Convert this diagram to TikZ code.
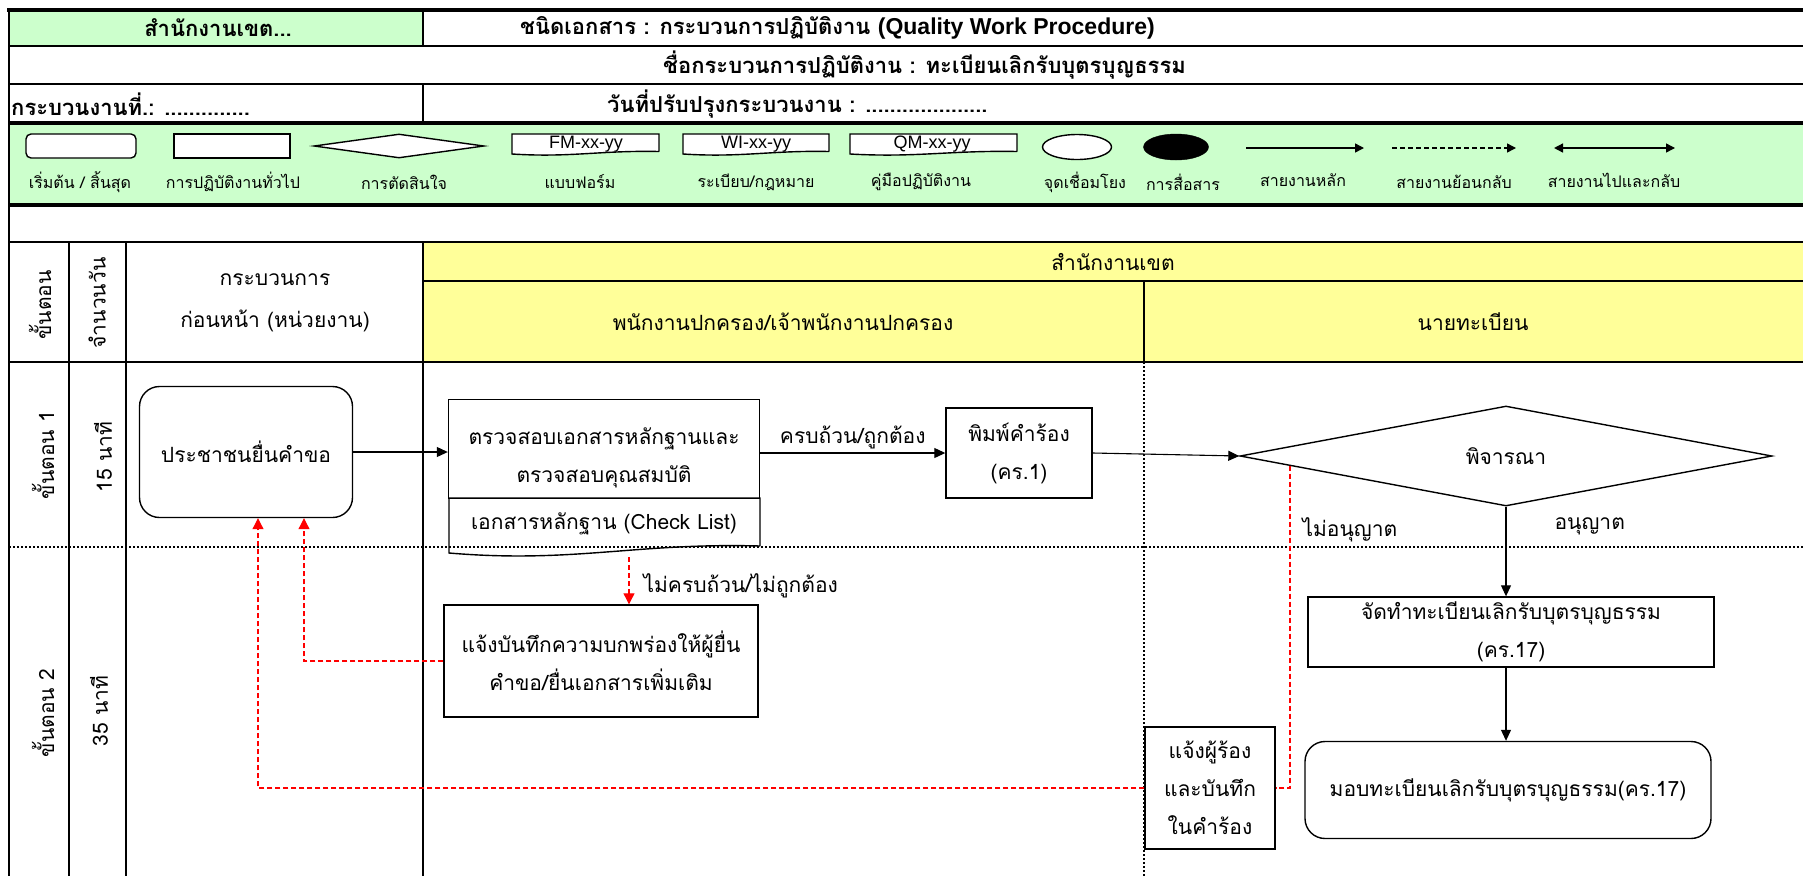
\documentclass[tikz,border=0pt]{standalone}
\usepackage{fontspec}
\setmainfont[Script=Thai]{Loma}
\newfontfamily\arialfont{Liberation Sans}
\usetikzlibrary{arrows.meta,calc,shapes.geometric}
\definecolor{legendgreen}{HTML}{CCFFCC}
\definecolor{laneyellow}{HTML}{FFFF99}
\newcommand\headfont{\fontsize{22}{26}\selectfont\bfseries}
\newcommand\boxfont{\fontsize{21}{38}\selectfont}
\newcommand\legfont{\fontsize{16}{18}\selectfont}
\def\docshape[#1](#2,#3)(#4,#5)#6{\draw[#1] (#4,{#5-#6}) -- (#4,#3) -- (#2,#3) -- (#2,#5) .. controls ({#2+0.4*(#4-#2)},{#5+1.5*#6}) and ({#2+0.6*(#4-#2)},{#5-1.5*#6}) .. (#4,{#5-#6});}
\tikzset{
  tbl/.style={line width=2pt},
  thk/.style={line width=4.5pt},
  dotline/.style={line width=2pt, dash pattern=on 2pt off 2pt},
  headtxt/.style={inner sep=0pt, font=\headfont},
  lanetxt/.style={inner sep=0pt, font=\boxfont, align=center},
  proc/.style={draw, line width=1.4pt, fill=white, inner sep=0pt, align=center, font=\boxfont},
  term/.style={proc, rounded corners=20pt},
  flow/.style={line width=1.1pt, -{Triangle[length=11pt,width=10pt]}},
  back/.style={red, line width=1.1pt, dash pattern=on 5pt off 3pt},
  backflow/.style={back, -{Triangle[length=11pt,width=11pt]}},
  flowtxt/.style={font=\boxfont, text=black, inner sep=0pt},
  legline/.style={line width=1.4pt, fill=white},
  legtxt/.style={inner sep=0pt, font=\legfont},
  legflow/.style={line width=1.4pt, -{Triangle[length=9pt,width=9pt]}}
}
\begin{document}
\begin{tikzpicture}[x=1pt,y=-1pt]
\useasboundingbox (0,0) rectangle (1803,876);
		%%%%% HEADER %%%%%
		\fill[legendgreen] (9,10) rectangle (423,46);
		\fill[legendgreen] (9,123) rectangle (1803,205);
		\fill[laneyellow] (423,242) rectangle (1803,362);
		
		\draw[thk] (7,10) -- (1803,10);
		\draw[tbl] (9,46) -- (1803,46);
		\draw[tbl] (9,84) -- (1803,84);
		\draw[thk] (9,123) -- (1803,123);
		\draw[thk] (9,205) -- (1803,205);
		\draw[tbl] (9,242) -- (1803,242);
		\draw[tbl] (423,281) -- (1803,281);
		\draw[tbl] (9,362) -- (1803,362);
		\draw[dotline] (9,547) -- (1803,547);
		
		\draw[tbl] (9,10) -- (9,876);
		\draw[tbl] (423,10) -- (423,46);
		\draw[tbl] (423,84) -- (423,123);
		\draw[tbl] (69,242) -- (69,876);
		\draw[tbl] (126,242) -- (126,876);
		\draw[tbl] (423,242) -- (423,876);
		\draw[tbl] (1144,281) -- (1144,362);
		\draw[dotline] (1144,362) -- (1144,876);
		
		\node[headtxt] (office) at (218,28) {สำนักงานเขต...};
		\node[headtxt, anchor=west] (doctype) at (520,28) {ชนิดเอกสาร : กระบวนการปฏิบัติงาน {\arialfont\fontsize{23}{26}\selectfont\bfseries(Quality Work Procedure)}};
		\node[headtxt, anchor=west] (procname) at (663,65) {ชื่อกระบวนการปฏิบัติงาน : ทะเบียนเลิกรับบุตรบุญธรรม};
		\node[headtxt, anchor=west] (procno) at (11,104) {กระบวนงานที่.: ..............};
		\node[headtxt, anchor=west] (update) at (607,104) {วันที่ปรับปรุงกระบวนงาน : ....................};
		
		%%%%% LEGEND %%%%%
		\node[legline, draw, rounded corners=5pt, minimum width=110pt, minimum height=24pt] (lstart) at (81,146) {};
		\node[legline, draw, minimum width=116pt, minimum height=24pt] (lproc) at (232,146) {};
		\node[legline, draw, diamond, inner sep=0pt, minimum width=170pt, minimum height=24pt] (ldec) at (399,146) {};
		\docshape[legline](512,134)(659,154){2.5}
		\docshape[legline](683,134)(829,154){2.5}
		\docshape[legline](850,134)(1017,154){2.5}
		\node[inner sep=0pt, font=\arialfont\fontsize{18}{20}\selectfont] (lfm) at (586,144) {FM-xx-yy};
		\node[inner sep=0pt, font=\arialfont\fontsize{18}{20}\selectfont] (lwi) at (756,144) {WI-xx-yy};
		\node[inner sep=0pt, font=\arialfont\fontsize{18}{20}\selectfont] (lqm) at (932,144) {QM-xx-yy};
		\node[legline, draw, ellipse, minimum width=69pt, minimum height=25pt] (lconn) at (1077,147) {};
		\node[draw, fill=black, ellipse, minimum width=65pt, minimum height=26pt] (lcomm) at (1176,147) {};
		\coordinate (lmaina) at (1246,148);
		\coordinate (lmainb) at (1364,148);
		\coordinate (lbacka) at (1392,148);
		\coordinate (lbackb) at (1516,148);
		\coordinate (lbotha) at (1554,148);
		\coordinate (lbothb) at (1675,148);
		\draw[legflow] (lmaina) -- (lmainb);
		\draw[legflow, dash pattern=on 5pt off 3pt] (lbacka) -- (lbackb);
		\draw[legflow, {Triangle[length=9pt,width=9pt]}-{Triangle[length=9pt,width=9pt]}] (lbotha) -- (lbothb);
		
		\node[legtxt] (lstarttxt) at (80,182) {เริ่มต้น / สิ้นสุด};
		\node[legtxt] (lproctxt) at (233,182) {การปฏิบัติงานทั่วไป};
		\node[legtxt] (ldectxt) at (404,182) {การตัดสินใจ};
		\node[legtxt] (lfmtxt) at (580,182) {แบบฟอร์ม};
		\node[legtxt] (lwitxt) at (756,182) {ระเบียบ/กฎหมาย};
		\node[legtxt] (lqmtxt) at (921,182) {คู่มือปฏิบัติงาน};
		\node[legtxt] (lconntxt) at (1085,182) {จุดเชื่อมโยง};
		\node[legtxt] (lcommtxt) at (1183,182) {การสื่อสาร};
		\node[legtxt] (lmaintxt) at (1303,180) {สายงานหลัก};
		\node[legtxt] (lbacktxt) at (1454,182) {สายงานย้อนกลับ};
		\node[legtxt] (lbothtxt) at (1614,180) {สายงานไปและกลับ};
		
		%%%%% LANES %%%%%
		\node[lanetxt, rotate=90] (steph) at (40,305) {ขั้นตอน};
		\node[lanetxt, rotate=90] (daysh) at (97,303) {จำนวนวัน};
		\node[lanetxt, font=\fontsize{21}{42}\selectfont] (prevh) at (275,303) {กระบวนการ\\ก่อนหน้า (หน่วยงาน)};
		\node[lanetxt] (officeh) at (1113,262) {สำนักงานเขต};
		\node[lanetxt] (staffh) at (783,322) {พนักงานปกครอง/เจ้าพนักงานปกครอง};
		\node[lanetxt] (regh) at (1473,322) {นายทะเบียน};
		
		\node[lanetxt, rotate=90] (stepa) at (43,455) {ขั้นตอน 1};
		\node[lanetxt, rotate=90] (timea) at (103,457) {15 นาที};
		\node[lanetxt, rotate=90] (stepb) at (43,713) {ขั้นตอน 2};
		\node[lanetxt, rotate=90] (timeb) at (99,711) {35 นาที};
		
		%%%%% FLOW %%%%%
		\node[term, minimum width=213pt, minimum height=131pt] (start) at (246,452) {ประชาชนยื่นคำขอ};
		\node[proc, minimum width=311pt, minimum height=99pt, text height=72pt] (check) at (604,449) {ตรวจสอบเอกสารหลักฐานและ\\ตรวจสอบคุณสมบัติ};
		\docshape[line width=1.4pt](449,498)(760,553){7}
		\node[lanetxt] (checklist) at (604,524) {เอกสารหลักฐาน (Check List)};
		\node[proc, minimum width=146pt, minimum height=90pt] (print) at (1019,453) {พิมพ์คำร้อง\\(คร.1)};
		\node[proc, diamond, minimum width=532pt, minimum height=100pt] (dec) at (1506,456) {พิจารณา};
		\node[proc, minimum width=314pt, minimum height=112pt] (amend) at (601,661) {แจ้งบันทึกความบกพร่องให้ผู้ยื่น\\คำขอ/ยื่นเอกสารเพิ่มเติม};
		\node[proc, minimum width=406pt, minimum height=70pt] (reg) at (1511,632) {จัดทำทะเบียนเลิกรับบุตรบุญธรรม\\(คร.17)};
		\node[proc, minimum width=130pt, minimum height=122pt] (notify) at (1210,788) {แจ้งผู้ร้อง\\และบันทึก\\ในคำร้อง};
		\node[term, minimum width=406pt, minimum height=97pt] (give) at (1508,790) {มอบทะเบียนเลิกรับบุตรบุญธรรม(คร.17)};
		
		\draw[flow] (start.east) -- (start.east -| check.west);
		\draw[flow] (check.east |- print.west) -- (print.west) node[midway, above, flowtxt, inner sep=3pt] {ครบถ้วน/ถูกต้อง};
		\draw[flow] (print.east) -- (dec.west);
		\draw[flow] (dec.south) -- (dec.south |- reg.north) node[pos=0.22, anchor=west, xshift=48pt, flowtxt] {อนุญาต};
		\draw[flow] (dec.south |- reg.south) -- (dec.south |- give.north);
		
		\coordinate (docbot) at (629,557);
		\coordinate (decleft) at ($(dec.west)!0.19!(dec.south)$);
		\draw[backflow] (docbot) -- (docbot |- amend.north) node[pos=0.6, anchor=west, xshift=14pt, flowtxt] {ไม่ครบถ้วน/ไม่ถูกต้อง};
		\draw[backflow] (amend.west) -| ([xshift=58pt]start.south);
		\draw[back] (decleft) |- (notify.east) node[pos=0.1, anchor=west, xshift=12pt, flowtxt] {ไม่อนุญาต};
		\draw[backflow] (notify.west) -| ([xshift=12pt]start.south);
\end{tikzpicture}
\end{document}
